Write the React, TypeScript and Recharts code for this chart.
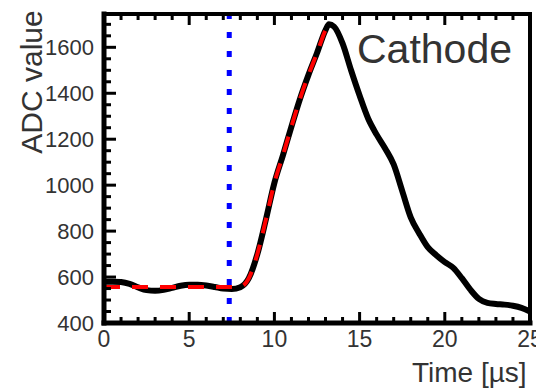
import { LineChart, Line, XAxis, YAxis, ReferenceLine, Label } from 'recharts';

// time in microseconds
const time = [
  0, 0.5, 1, 1.5, 2, 2.5, 3, 3.5, 4, 4.5, 5, 5.5, 6, 6.5, 7, 7.5, 8, 8.5, 9, 9.5,
  10, 10.5, 11, 11.5, 12, 12.5, 13, 13.2, 13.5, 14, 14.5, 15, 15.5, 16, 16.5, 17,
  17.5, 18, 18.5, 19, 19.5, 20, 20.5, 21, 21.5, 22, 22.5, 23, 23.5, 24, 24.5, 25,
];

// measured cathode signal
const adc = [
  580, 580, 578, 570, 555, 543, 540, 544, 553, 562, 566, 566, 563, 557, 550, 548,
  556, 595, 700, 850, 1010, 1130, 1255, 1375, 1480, 1575, 1675, 1700, 1690, 1617,
  1500, 1390, 1290, 1220, 1160, 1090, 975, 860, 790, 730, 695, 665, 640, 595, 545,
  505, 488, 483, 480, 475, 466, 450,
];

// fit of the rising edge (ends at the peak)
const fit = [
  557, 557, 557, 557, 557, 557, 557, 557, 557, 557, 557, 557, 557, 557, 557, 557,
  558, 595, 700, 850, 1010, 1130, 1255, 1375, 1480, 1575, 1675, 1700, null, null,
  null, null, null, null, null, null, null, null, null, null, null, null, null, null,
  null, null, null, null, null, null, null, null,
];

const triggerTime = 7.35;

const xTicks = [
  0, 1, 2, 3, 4, 5, 6, 7, 8, 9, 10, 11, 12, 13, 14, 15, 16, 17, 18, 19, 20, 21, 22,
  23, 24, 25,
];
const yTicks = [
  400, 450, 500, 550, 600, 650, 700, 750, 800, 850, 900, 950, 1000, 1050, 1100,
  1150, 1200, 1250, 1300, 1350, 1400, 1450, 1500, 1550, 1600, 1650, 1700,
];

const data = time.map((t, i) => ({ t, adc: adc[i], fit: fit[i] }));

const FONT = 'Liberation Sans, Arial, sans-serif';
const TXT = '#333';

const BottomTick = ({ x, y, payload }: any) => {
  const major = payload.value % 5 === 0;
  return (
    <g>
      <line x1={x} x2={x} y1={y} y2={y - (major ? 11 : 6)} stroke='#000' strokeWidth={3} />
      {major && (
        <text x={x} y={y + 24} textAnchor='middle' fontSize={23} fontFamily={FONT} fill={TXT}>
          {payload.value}
        </text>
      )}
    </g>
  );
};

const TopTick = ({ x, y, payload }: any) => {
  const major = payload.value % 5 === 0;
  return <line x1={x} x2={x} y1={y} y2={y + (major ? 11 : 6)} stroke='#000' strokeWidth={3} />;
};

const LeftTick = ({ x, y, payload }: any) => {
  const major = payload.value % 200 === 0;
  return (
    <g>
      <line x1={x} x2={x + (major ? 12 : 7)} y1={y} y2={y} stroke='#000' strokeWidth={3} />
      {major && (
        <text x={x - 10} y={y} dy='0.36em' textAnchor='end' fontSize={22} fontFamily={FONT} fill={TXT}>
          {payload.value}
        </text>
      )}
    </g>
  );
};

const RightTick = ({ x, y, payload }: any) => {
  const major = payload.value % 200 === 0;
  return <line x1={x} x2={x - (major ? 12 : 7)} y1={y} y2={y} stroke='#000' strokeWidth={3} />;
};

export default function App() {
  return (
    <div style={{ position: 'absolute', left: 0, top: 0, background: '#fff' }}>
      <LineChart
        width={536}
        height={388}
        data={data}
        margin={{ top: 13, right: 5, bottom: 0, left: 0 }}
      >
        <XAxis
          xAxisId='bottom'
          dataKey='t'
          type='number'
          domain={[0, 25]}
          ticks={xTicks}
          interval={0}
          height={65}
          tickSize={0}
          tickMargin={0}
          tickLine={false}
          tick={<BottomTick />}
          axisLine={{ stroke: '#000', strokeWidth: 5, strokeLinecap: 'square' }}
        >
          <Label
            content={() => (
              <text x={412} y={382} fontSize={28} fontFamily={FONT} fill={TXT}>
                Time [µs]
              </text>
            )}
          />
        </XAxis>
        <XAxis
          xAxisId='top'
          orientation='top'
          dataKey='t'
          type='number'
          domain={[0, 25]}
          ticks={xTicks}
          interval={0}
          height={1}
          tickSize={0}
          tickMargin={0}
          tickLine={false}
          tick={<TopTick />}
          axisLine={{ stroke: '#000', strokeWidth: 4, strokeLinecap: 'square' }}
        >
          <Label
            content={() => (
              <text x={357} y={63} fontSize={41} fontFamily={FONT} fill={TXT}>
                Cathode
              </text>
            )}
          />
        </XAxis>
        <YAxis
          yAxisId='left'
          type='number'
          domain={[400, 1745]}
          ticks={yTicks}
          interval={0}
          width={104}
          tickSize={0}
          tickMargin={0}
          tickLine={false}
          tick={<LeftTick />}
          axisLine={{ stroke: '#000', strokeWidth: 5, strokeLinecap: 'square' }}
        >
          <Label
            content={() => (
              <text
                x={42}
                y={82}
                transform='rotate(-90 42 82)'
                textAnchor='middle'
                fontSize={30}
                fontFamily={FONT}
                fill={TXT}
              >
                ADC value
              </text>
            )}
          />
        </YAxis>
        <YAxis
          yAxisId='right'
          orientation='right'
          type='number'
          domain={[400, 1745]}
          ticks={yTicks}
          interval={0}
          width={1}
          tickSize={0}
          tickMargin={0}
          tickLine={false}
          tick={<RightTick />}
          axisLine={{ stroke: '#000', strokeWidth: 4, strokeLinecap: 'square' }}
        />
        <ReferenceLine
          xAxisId='bottom'
          yAxisId='left'
          x={triggerTime}
          stroke='#0000ff'
          strokeWidth={5}
          strokeDasharray='6 13'
        />
        <Line
          xAxisId='bottom'
          yAxisId='left'
          type='monotone'
          dataKey='adc'
          stroke='#000'
          strokeWidth={6}
          dot={false}
          isAnimationActive={false}
        />
        <Line
          xAxisId='bottom'
          yAxisId='left'
          type='monotone'
          dataKey='fit'
          stroke='#ff0000'
          strokeWidth={4}
          strokeDasharray='16 12'
          dot={false}
          isAnimationActive={false}
        />
      </LineChart>
    </div>
  );
}
